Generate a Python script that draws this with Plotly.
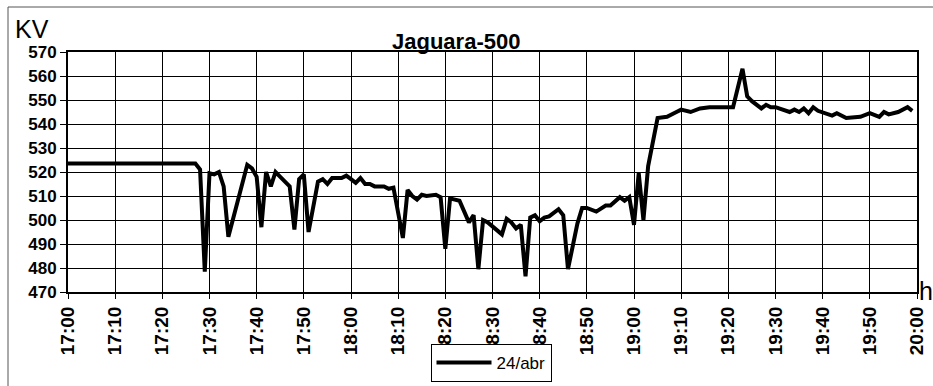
import plotly.graph_objects as go

# Voltage readings at Jaguara 500 kV bus, 24/abr
times = ["17:00", "17:27", "17:28", "17:29", "17:30", "17:31", "17:32", "17:33", "17:34",
         "17:38", "17:39", "17:40", "17:41", "17:42", "17:43", "17:44", "17:45", "17:46",
         "17:47", "17:48", "17:49", "17:50", "17:51", "17:53", "17:54", "17:55", "17:56",
         "17:58", "17:59", "18:00", "18:01", "18:02", "18:03", "18:04", "18:05", "18:07",
         "18:08", "18:09", "18:11", "18:12", "18:13", "18:14", "18:15", "18:16", "18:18",
         "18:19", "18:20", "18:21", "18:23", "18:25", "18:26", "18:27", "18:28", "18:29",
         "18:32", "18:33", "18:34", "18:35", "18:36", "18:37", "18:38", "18:39", "18:40",
         "18:41", "18:42", "18:44", "18:45", "18:46", "18:48", "18:49", "18:50", "18:52",
         "18:54", "18:55", "18:57", "18:58", "18:59", "19:00", "19:01", "19:02", "19:03",
         "19:05", "19:07", "19:09", "19:10", "19:12", "19:14", "19:16", "19:18", "19:21",
         "19:23", "19:24", "19:25", "19:27", "19:28", "19:29", "19:30", "19:33", "19:34",
         "19:35", "19:36", "19:37", "19:38", "19:39", "19:42", "19:43", "19:45", "19:48",
         "19:50", "19:52", "19:53", "19:54", "19:56", "19:58", "19:59"]

kv = [523.5, 523.5, 521.0, 478.5, 519.5, 519.0, 520.0, 514.0, 493.0,
      523.0, 521.5, 518.0, 497.0, 520.0, 514.0, 520.0, 518.0, 516.0,
      514.0, 496.0, 517.0, 519.0, 495.0, 516.0, 517.0, 515.0, 517.5,
      517.5, 518.5, 517.0, 515.5, 517.5, 515.0, 515.0, 514.0, 514.0,
      513.0, 513.5, 492.5, 512.5, 510.0, 508.5, 510.5, 510.0, 510.5,
      509.5, 488.0, 509.0, 508.0, 499.0, 502.0, 479.5, 500.0, 499.0,
      494.0, 500.5, 499.0, 496.5, 498.0, 476.5, 501.0, 502.0, 499.5,
      501.0, 501.5, 504.5, 502.0, 479.5, 498.5, 505.0, 505.0, 503.5,
      506.0, 506.0, 509.5, 508.0, 509.5, 498.0, 519.5, 500.0, 522.5,
      542.5, 543.0, 545.0, 546.0, 545.0, 546.5, 547.0, 547.0, 547.0,
      563.0, 551.5, 549.5, 546.5, 548.0, 547.0, 547.0, 545.0, 546.0,
      545.0, 546.5, 544.5, 547.0, 545.5, 543.5, 544.5, 542.5, 543.0,
      544.5, 543.0, 545.0, 544.0, 545.0, 547.0, 545.5]

tick_labels = ["17:00", "17:10", "17:20", "17:30", "17:40", "17:50", "18:00", "18:10",
               "18:20", "18:30", "18:40", "18:50", "19:00", "19:10", "19:20", "19:30",
               "19:40", "19:50", "20:00"]
y_ticks = [470, 480, 490, 500, 510, 520, 530, 540, 550, 560, 570]


def to_min(hhmm):
    h, m = hhmm.split(":")
    return (int(h) - 17) * 60 + int(m)


x_min = [to_min(t) for t in times]
tick_vals = [to_min(t) for t in tick_labels]

FONT = "Liberation Sans, Arial, sans-serif"

# pixel geometry of the plotting area
W, H = 933, 386
L, R, T, B = 68, 16, 52, 94
pw, ph = W - L - R, H - T - B


def px(x):
    return (x - L) / pw


def py(y):
    return (H - B - y) / ph


fig = go.Figure()
fig.add_trace(go.Scatter(
    x=x_min, y=kv, mode="lines", name="24/abr",
    line=dict(color="black", width=4),
))

fig.update_layout(
    width=W, height=H,
    margin=dict(l=L, r=R, t=T, b=B, autoexpand=False),
    paper_bgcolor="white", plot_bgcolor="white",
    font=dict(family=FONT, color="black"),
    showlegend=True,
    legend=dict(
        x=px(491), y=py(344), xanchor="center", yanchor="top",
        bgcolor="white", bordercolor="black", borderwidth=1,
        font=dict(size=17, family=FONT, color="black"),
        itemwidth=55,
    ),
    xaxis=dict(
        range=[0, 180], tickmode="array", tickvals=tick_vals, ticktext=tick_labels,
        tickangle=-90, ticks="outside", ticklen=5, tickcolor="black", tickwidth=1,
        showgrid=True, gridcolor="black", gridwidth=1,
        showline=True, linecolor="black", linewidth=2, mirror=True,
        zeroline=False,
        tickfont=dict(size=19, family=FONT, color="black", weight="bold"),
    ),
    yaxis=dict(
        range=[470, 570], tickmode="array", tickvals=y_ticks,
        ticks="outside", ticklen=6, tickcolor="black", tickwidth=1,
        showgrid=True, gridcolor="black", gridwidth=1,
        showline=True, linecolor="black", linewidth=2, mirror=True,
        zeroline=False,
        tickfont=dict(size=17, family=FONT, color="black", weight="bold"),
    ),
)

# chart frame (left and top edges)
fig.add_shape(type="line", xref="paper", yref="paper",
              x0=px(8), x1=px(8), y0=py(7), y1=py(386),
              line=dict(color="#555555", width=1))
fig.add_shape(type="line", xref="paper", yref="paper",
              x0=px(8), x1=px(933), y0=py(7), y1=py(7),
              line=dict(color="#555555", width=1))

fig.add_annotation(text="<b>Jaguara-500</b>", xref="paper", yref="paper",
                   x=px(456), y=py(42), xanchor="center", yanchor="middle",
                   showarrow=False, font=dict(size=22, family=FONT, color="black"))
fig.add_annotation(text="KV", xref="paper", yref="paper",
                   x=px(13), y=py(29), xanchor="left", yanchor="middle",
                   showarrow=False, font=dict(size=25, family=FONT, color="black"))
fig.add_annotation(text="h", xref="paper", yref="paper",
                   x=px(917), y=py(291), xanchor="left", yanchor="middle",
                   showarrow=False, font=dict(size=25, family=FONT, color="black"))

fig.write_html("out.html")
